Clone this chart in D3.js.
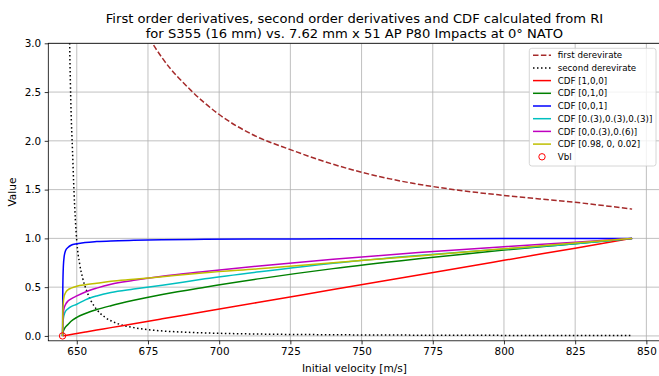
<!DOCTYPE html>
<html><head><meta charset="utf-8">
<script src="https://cdn.jsdelivr.net/npm/d3@7"></script>
<style>html,body{margin:0;padding:0;background:#fff;}svg{display:block;font-family:"DejaVu Sans",sans-serif;}</style>
</head><body><div id="chart"></div>
<script>
// ---- data ----
const titleLines = ["First order derivatives, second order derivatives and CDF calculated from RI",
                    "for S355 (16 mm) vs. 7.62 mm x 51 AP P80 Impacts at 0\u00b0 NATO"];
const xTicks = [650, 675, 700, 725, 750, 775, 800, 825, 850];
const yTicks = [0.0, 0.5, 1.0, 1.5, 2.0, 2.5, 3.0];

const cdfV = [645, 645.1, 645.3, 645.6, 646, 647, 648, 650, 653, 657, 662, 670, 680, 695, 715, 740, 770, 800, 825, 845];
const cdf100 = [0, 0.0005, 0.0015, 0.003, 0.005, 0.01, 0.015, 0.025, 0.04, 0.06, 0.085, 0.125, 0.175, 0.25, 0.35, 0.475, 0.625, 0.775, 0.9, 1.0];
const cdf010 = [0, 0.03, 0.05, 0.07, 0.09, 0.12, 0.15, 0.19, 0.23, 0.27, 0.31, 0.365, 0.425, 0.5, 0.59, 0.69, 0.79, 0.88, 0.945, 1.0];
const cdf001 = [0, 0.5, 0.72, 0.82, 0.87, 0.91, 0.93, 0.945, 0.958, 0.967, 0.974, 0.98, 0.985, 0.99, 0.993, 0.995, 0.997, 0.998, 0.999, 1.0];
const cdfThirds = [0, 0.12, 0.18, 0.22, 0.25, 0.28, 0.30, 0.325, 0.37, 0.41, 0.445, 0.48, 0.52, 0.585, 0.66, 0.745, 0.825, 0.89, 0.945, 1.0];
const cdf0_13_23 = [0, 0.15, 0.24, 0.29, 0.32, 0.36, 0.38, 0.41, 0.45, 0.49, 0.53, 0.57, 0.612, 0.66, 0.72, 0.785, 0.855, 0.915, 0.96, 1.0];
const cdf98_0_02 = [0, 0.25, 0.35, 0.41, 0.44, 0.475, 0.49, 0.51, 0.525, 0.54, 0.56, 0.58, 0.607, 0.647, 0.69, 0.75, 0.82, 0.893, 0.952, 1.0];

const firstV = [665, 670, 675, 680, 690, 700, 712, 725, 740, 760, 780, 800, 825, 845];
const firstDer = [3.8, 3.4, 3.08, 2.85, 2.52, 2.27, 2.06, 1.91, 1.76, 1.61, 1.51, 1.44, 1.37, 1.30];

const secondV = [646, 646.5, 647, 647.5, 648, 648.5, 649, 650, 651, 652, 653.5, 655, 657, 660, 664, 670, 678, 690, 710, 740, 780, 845];
const secondDer = [11, 6.0, 4.2, 3.0, 2.3, 1.9, 1.5, 0.97, 0.74, 0.6, 0.46, 0.36, 0.27, 0.19, 0.13, 0.085, 0.056, 0.036, 0.021, 0.012, 0.007, 0.004];

const vbl = [645];
const vblVal = [0];

const series = [
  {name: "first derevirate", xs: firstV, ys: firstDer, color: "#a52a2a", dash: "5.5,2.4"},
  {name: "second derevirate", xs: secondV, ys: secondDer, color: "#000000", dash: "1.5,2.5"},
  {name: "CDF [1,0,0]", xs: cdfV, ys: cdf100, color: "#ff0000"},
  {name: "CDF [0,1,0]", xs: cdfV, ys: cdf010, color: "#008000"},
  {name: "CDF [0,0,1]", xs: cdfV, ys: cdf001, color: "#0000ff"},
  {name: "CDF [0.(3),0.(3),0.(3)]", xs: cdfV, ys: cdfThirds, color: "#00bfbf"},
  {name: "CDF [0,0.(3),0.(6)]", xs: cdfV, ys: cdf0_13_23, color: "#bf00bf"},
  {name: "CDF [0.98, 0, 0.02]", xs: cdfV, ys: cdf98_0_02, color: "#bfbf00"}
];

// ---- layout ----
const W = 659, H = 376;
const L = 48.3, R = 660.6, T = 43.3, B = 340.8;
const x = d3.scaleLinear().domain([640, 855]).range([L, R]);
const y = d3.scaleLinear().domain([-0.05, 3.0]).range([B, T]);

const svg = d3.select("#chart").append("svg").attr("width", W).attr("height", H);

svg.append("defs").append("clipPath").attr("id", "clip")
  .append("rect").attr("x", L).attr("y", T).attr("width", R - L).attr("height", B - T);

// grid
const grid = svg.append("g");
grid.selectAll("line.gx").data(xTicks).join("line")
  .attr("x1", d => x(d)).attr("x2", d => x(d)).attr("y1", T).attr("y2", B)
  .attr("stroke", "#b0b0b0").attr("stroke-width", 0.8);
grid.selectAll("line.gy").data(yTicks).join("line")
  .attr("x1", L).attr("x2", R).attr("y1", d => y(d)).attr("y2", d => y(d))
  .attr("stroke", "#b0b0b0").attr("stroke-width", 0.8);

// lines
const plot = svg.append("g").attr("clip-path", "url(#clip)");
series.forEach(s => {
  const pts = s.xs.map((v, i) => [v, s.ys[i]]);
  const line = d3.line().x(d => x(d[0])).y(d => y(d[1])).curve(d3.curveMonotoneX);
  plot.append("path").attr("d", line(pts)).attr("fill", "none")
    .attr("stroke", s.color).attr("stroke-width", 1.5)
    .attr("stroke-dasharray", s.dash || null);
});
svg.append("g").selectAll("circle").data(vbl).join("circle")
  .attr("cx", d => x(d)).attr("cy", (d, i) => y(vblVal[i])).attr("r", 3.2)
  .attr("fill", "none").attr("stroke", "#ff0000").attr("stroke-width", 1);

// axes
const xAxis = svg.append("g").attr("transform", `translate(0,${B})`)
  .call(d3.axisBottom(x).tickValues(xTicks).tickSize(3.6).tickPadding(3.5).tickFormat(d3.format("d")));
const yAxis = svg.append("g").attr("transform", `translate(${L},0)`)
  .call(d3.axisLeft(y).tickValues(yTicks).tickSize(3.6).tickPadding(3.5).tickFormat(d3.format(".1f")));
[xAxis, yAxis].forEach(a => {
  a.select(".domain").remove();
  a.selectAll("text").attr("font-family", "DejaVu Sans").attr("font-size", 10.4).attr("fill", "#000");
  a.selectAll("line").attr("stroke", "#000").attr("stroke-width", 0.8);
});
// spines
svg.append("rect").attr("x", L).attr("y", T).attr("width", R - L).attr("height", B - T)
  .attr("fill", "none").attr("stroke", "#000").attr("stroke-width", 0.8);

// labels
svg.append("text").attr("x", (L + R) / 2).attr("y", 372).attr("text-anchor", "middle")
  .attr("font-size", 10.6).text("Initial velocity [m/s]");
svg.append("text").attr("transform", `translate(16,${(T + B) / 2}) rotate(-90)`).attr("text-anchor", "middle")
  .attr("font-size", 10.6).text("Value");
svg.append("g").selectAll("text").data(titleLines).join("text")
  .attr("x", (L + R) / 2).attr("y", (d, i) => 22.5 + i * 15.4).attr("text-anchor", "middle")
  .attr("font-size", 13.1).text(d => d);

// legend
const lg = svg.append("g");
lg.append("rect").attr("x", 529.3).attr("y", 48.3).attr("width", 126.7).attr("height", 117.7)
  .attr("rx", 2.5).attr("fill", "#fff").attr("fill-opacity", 0.8).attr("stroke", "#cccccc").attr("stroke-width", 0.8);
const entries = series.map(s => ({name: s.name, color: s.color, dash: s.dash, type: "line"}))
  .concat([{name: "Vbl", color: "#ff0000", type: "marker"}]);
entries.forEach((e, i) => {
  const yy = 55.2 + i * 12.7;
  if (e.type === "line") {
    lg.append("line").attr("x1", 533).attr("x2", 551).attr("y1", yy).attr("y2", yy)
      .attr("stroke", e.color).attr("stroke-width", 1.5).attr("stroke-dasharray", e.dash || null);
  } else {
    lg.append("circle").attr("cx", 542).attr("cy", yy).attr("r", 3.2)
      .attr("fill", "none").attr("stroke", e.color).attr("stroke-width", 1);
  }
  lg.append("text").attr("x", 557.7).attr("y", yy + 3.1).attr("font-size", 8.7).text(e.name);
});
</script></body></html>
